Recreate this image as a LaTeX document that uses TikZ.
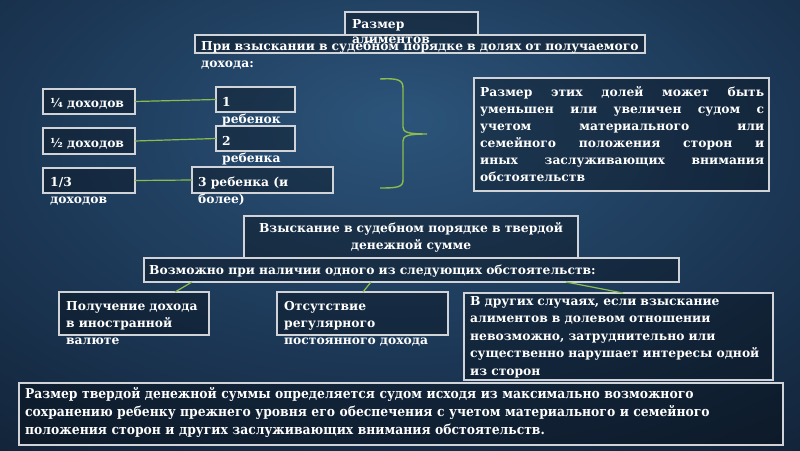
\documentclass[tikz,border=0pt]{standalone}
\usepackage{fontspec}
\setmainfont{DejaVu Serif}
\newfontfamily\condfont{DejaVu Serif}[FakeStretch=0.915]
\usetikzlibrary{calc}
\definecolor{bgA}{RGB}{44,84,122}
\definecolor{bgB}{RGB}{27,54,84}
\definecolor{bgC}{RGB}{11,20,33}
\definecolor{frame}{RGB}{208,211,215}
\definecolor{linkgreen}{RGB}{138,188,78}
\pgfdeclareradialshading{bgshade}{\pgfpoint{0bp}{12bp}}{color(0bp)=(bgA); color(25bp)=(bgB); color(55bp)=(bgC); color(100bp)=(bgC)}
\newcommand\slidebox[5]{\node[box, minimum width={#4-#2}, minimum height={#5-#3}] (#1) at (#2,#3) {};}
\begin{document}
\begin{tikzpicture}[x=1pt,y=-1pt,
  box/.style={draw=frame, line width=1.3pt, fill=black, fill opacity=0.3, draw opacity=1, inner sep=0pt, outer sep=0pt, anchor=north west},
  txt/.style={text=white, inner sep=0pt, anchor=base west, text width=460pt, align=left, font=\bfseries\fontsize{12.3}{17}\selectfont},
  conn/.style={draw=linkgreen, line width=1.2pt}]
\useasboundingbox (0,0) rectangle (800,450);
\shade[shading=bgshade] (0,0) rectangle (800,450);
% boxes
\slidebox{b2}{195}{35}{645}{53}
\slidebox{b1}{345}{12}{478}{35}
\slidebox{q1}{43}{89}{135}{114}
\slidebox{c1}{216}{87}{295}{112}
\slidebox{q2}{43}{128}{135}{154}
\slidebox{c2}{216}{126}{295}{151}
\slidebox{q3}{43}{168}{135}{193}
\slidebox{c3}{192}{167}{333}{193}
\slidebox{note}{474}{78}{769}{191}
\slidebox{fixed}{244}{216}{578}{258}
\slidebox{poss}{144}{258}{679}{282}
\slidebox{r1}{59}{292}{209}{335}
\slidebox{r2}{277}{292}{448}{335}
\slidebox{r3}{464}{293}{773}{380}
\slidebox{sum}{19}{383}{783}{445}
% connectors
\draw[conn] (q1.east) -- (c1.west);
\draw[conn] (q2.east) -- (c2.west);
\draw[conn] (q3.east) -- (c3.west);
\draw[conn] ([xshift=48pt]poss.south west) -- ([xshift=116pt]r1.north west);
\draw[conn] ([xshift=227pt]poss.south west) -- ([xshift=86pt]r2.north west);
\draw[conn] ([xshift=422pt]poss.south west) -- ([xshift=159pt]r3.north west);
% brace
\draw[conn, line width=1.4pt] (380,79) .. controls (398,78) and (403,80) .. (403,88) -- (403,127)
  .. controls (403,132) and (407,134) .. (427,134)
  .. controls (407,134) and (403,136) .. (403,141) -- (403,180)
  .. controls (403,187) and (398,188) .. (380,188);
% texts
\node[txt, font=\bfseries\fontsize{12.3}{15}\selectfont] (t1) at ($(b1.north west)+(7,16)$) {Размер\\алиментов};
\node[txt] (t2) at ($(b2.north west)+(6,15)$) {При взыскании в судебном порядке в долях от получаемого\\дохода:};
\node[txt] (tq1) at ($(q1.north west)+(7,18)$) {¼ доходов};
\node[txt] (tc1) at ($(c1.north west)+(6,19)$) {1\\ребенок};
\node[txt] (tq2) at ($(q2.north west)+(7,19)$) {½ доходов};
\node[txt] (tc2) at ($(c2.north west)+(6,19)$) {2\\ребенка};
\node[txt] (tq3) at ($(q3.north west)+(7,18)$) {1/3\\доходов};
\node[txt] (tc3) at ($(c3.north west)+(6,19)$) {3 ребенка (и\\более)};
\node[txt, text width=284pt, align=justify] (tn) at ($(note.north west)+(6,18)$)
  {Размер этих долей может быть\linebreak уменьшен или увеличен судом с\linebreak учетом материального или\linebreak семейного положения сторон и\linebreak иных заслуживающих внимания\linebreak обстоятельств};
\node[txt, anchor=base, text width=330pt, align=center] (tf) at ($(fixed.north)+(0,16)$) {Взыскание в судебном порядке в твердой\\денежной сумме};
\node[txt] (tp) at ($(poss.north west)+(5,16)$) {Возможно при наличии одного из следующих обстоятельств:};
\node[txt] (tr1) at ($(r1.north west)+(7,18)$) {Получение дохода\\в иностранной\\валюте};
\node[txt] (tr2) at ($(r2.north west)+(7,18)$) {Отсутствие\\регулярного\\постоянного дохода};
\node[txt, font=\bfseries\fontsize{12.3}{17.5}\selectfont] (tr3) at ($(r3.north west)+(6,12)$) {В других случаях, если взыскание\\алиментов в долевом отношении\\невозможно, затруднительно или\\существенно нарушает интересы одной\\из сторон};
\node[txt, text width=760pt, font=\condfont\bfseries\fontsize{13.5}{18}\selectfont] (ts) at ($(sum.north west)+(6,15)$) {Размер твердой денежной суммы определяется судом исходя из максимально возможного\\сохранению ребенку прежнего уровня его обеспечения с учетом материального и семейного\\положения сторон и других заслуживающих внимания обстоятельств.};
\end{tikzpicture}
\end{document}
